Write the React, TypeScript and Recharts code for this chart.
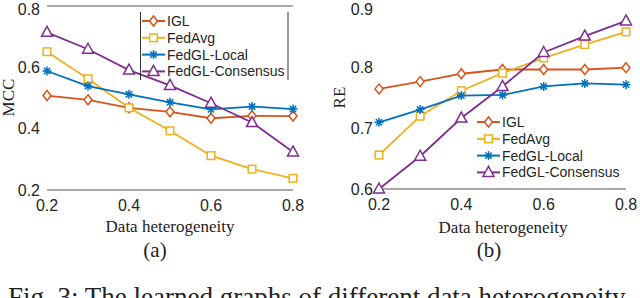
import React from 'react';
import { LineChart, Line, XAxis, YAxis, ReferenceLine, Legend } from 'recharts';

const heterogeneity = [0.2, 0.3, 0.4, 0.5, 0.6, 0.7, 0.8];
const xTicks = [0.2, 0.4, 0.6, 0.8];

const mccIGL = [0.508, 0.494, 0.468, 0.455, 0.434, 0.442, 0.441];
const mccFedAvg = [0.651, 0.563, 0.468, 0.393, 0.312, 0.268, 0.238];
const mccLocal = [0.588, 0.539, 0.512, 0.486, 0.463, 0.472, 0.464];
const mccConsensus = [0.714, 0.659, 0.591, 0.541, 0.483, 0.42, 0.324];
const mccTicks = [0.2, 0.4, 0.6, 0.8];

const reIGL = [0.765, 0.777, 0.79, 0.797, 0.797, 0.797, 0.8];
const reFedAvg = [0.656, 0.72, 0.762, 0.791, 0.816, 0.838, 0.859];
const reLocal = [0.71, 0.731, 0.754, 0.755, 0.769, 0.774, 0.772];
const reConsensus = [0.6, 0.654, 0.717, 0.769, 0.825, 0.852, 0.877];
const reTicks = [0.6, 0.7, 0.8, 0.9];

const seriesNames = ['IGL', 'FedAvg', 'FedGL-Local', 'FedGL-Consensus'];
const seriesColors = ['#D95319', '#EDB120', '#0072BD', '#7E2F8E'];
const seriesMarkers = ['diamond', 'square', 'asterisk', 'triangle'];

const mccData = heterogeneity.map((x, i) => ({
  x,
  IGL: mccIGL[i],
  FedAvg: mccFedAvg[i],
  'FedGL-Local': mccLocal[i],
  'FedGL-Consensus': mccConsensus[i],
}));
const reData = heterogeneity.map((x, i) => ({
  x,
  IGL: reIGL[i],
  FedAvg: reFedAvg[i],
  'FedGL-Local': reLocal[i],
  'FedGL-Consensus': reConsensus[i],
}));

const SANS = '"Liberation Sans", Arial, sans-serif';
const SERIF = '"Liberation Serif", "Times New Roman", serif';

function Marker({ kind, cx, cy, color }: { kind: string; cx: number; cy: number; color: string }) {
  const common = { fill: '#fff', stroke: color, strokeWidth: 1.5 };
  if (kind === 'diamond') {
    return <polygon points={`${cx},${cy - 5} ${cx + 4},${cy} ${cx},${cy + 5} ${cx - 4},${cy}`} {...common} />;
  }
  if (kind === 'square') {
    return <rect x={cx - 3.8} y={cy - 3.8} width={7.6} height={7.6} {...common} />;
  }
  if (kind === 'triangle') {
    return <polygon points={`${cx},${cy - 6} ${cx + 5.5},${cy + 4} ${cx - 5.5},${cy + 4}`} {...common} />;
  }
  const r = 4.5;
  const d = r * 0.707;
  return (
    <path
      d={`M${cx - r},${cy}L${cx + r},${cy}M${cx},${cy - r}L${cx},${cy + r}M${cx - d},${cy - d}L${cx + d},${cy + d}M${cx - d},${cy + d}L${cx + d},${cy - d}`}
      stroke={color}
      strokeWidth={1.5}
      fill="none"
    />
  );
}

function makeDot(kind: string, color: string) {
  return (props: any) => {
    const { cx, cy, index } = props;
    if (cx == null || cy == null) return <g key={`d-${index}`} />;
    return (
      <g key={`d-${kind}-${index}`}>
        <Marker kind={kind} cx={cx} cy={cy} color={color} />
      </g>
    );
  };
}

function LegendBox({ bordered }: { bordered: boolean }) {
  const h = 68;
  return (
    <svg width={150} height={h} style={{ display: 'block', overflow: 'visible' }}>
      {bordered && <line x1={0.5} y1={0} x2={0.5} y2={h} stroke="#333" strokeWidth={1} />}
      {bordered && <line x1={148} y1={0} x2={148} y2={h} stroke="#333" strokeWidth={1} />}
      {seriesNames.map((n, i) => {
        const cy = 9 + i * 16.8;
        return (
          <g key={n}>
            <line x1={2} y1={cy} x2={25} y2={cy} stroke={seriesColors[i]} strokeWidth={2} />
            <Marker kind={seriesMarkers[i]} cx={13.5} cy={cy} color={seriesColors[i]} />
            <text x={27} y={cy} dominantBaseline="central" fontFamily={SANS} fontSize={14} fill="#262626">
              {n}
            </text>
          </g>
        );
      })}
    </svg>
  );
}

const fmt = (v: number) => v.toFixed(1);

function renderSeries() {
  return seriesNames.map((n, i) => (
    <Line
      key={n}
      type="linear"
      dataKey={n}
      stroke={seriesColors[i]}
      strokeWidth={1.8}
      dot={makeDot(seriesMarkers[i], seriesColors[i])}
      activeDot={false}
      isAnimationActive={false}
    />
  ));
}

export default function App() {
  return (
    <div
      style={{
        position: 'absolute',
        left: 0,
        top: 0,
        width: 640,
        height: 298,
        overflow: 'hidden',
        background: '#fff',
      }}
    >
      <div style={{ position: 'absolute', left: 0, top: 0 }}>
        <LineChart width={310} height={240} data={mccData} margin={{ top: 6, right: 17, bottom: 20, left: 0 }}>
          <XAxis
            dataKey="x"
            type="number"
            domain={[0.2, 0.8]}
            ticks={xTicks}
            tickFormatter={fmt}
            height={30}
            axisLine={{ stroke: '#555' }}
            tickLine={false}
            tickSize={6}
            tickMargin={4}
            tick={{ fontFamily: SANS, fontSize: 16, fill: '#262626' }}
            label={{
              content: () => (
                <text x={170} y={231.5} textAnchor="middle" fontFamily={SERIF} fontSize={17} fill="#222">
                  Data heterogeneity
                </text>
              ),
            }}
          />
          <YAxis
            type="number"
            domain={[0.2, 0.8]}
            ticks={mccTicks}
            tickFormatter={fmt}
            width={47}
            axisLine={false}
            tickLine={false}
            tickSize={5}
            tickMargin={2}
            tick={{ fontFamily: SANS, fontSize: 16, fill: '#262626' }}
            label={{
              content: () => (
                <text
                  x={14}
                  y={97.5}
                  transform="rotate(-90 14 97.5)"
                  textAnchor="middle"
                  fontFamily={SERIF}
                  fontSize={17}
                  fill="#222"
                >
                  MCC
                </text>
              ),
            }}
          />
          <ReferenceLine y={0.8} stroke="#555" strokeWidth={1} ifOverflow="visible" />
          <Legend
            layout="vertical"
            align="center"
            verticalAlign="middle"
            wrapperStyle={{ left: 140, top: 12, width: 150 }}
            content={() => <LegendBox bordered={true} />}
          />
          {renderSeries()}
        </LineChart>
      </div>

      <div style={{ position: 'absolute', left: 320, top: 0 }}>
        <LineChart width={320} height={240} data={reData} margin={{ top: 7, right: 14, bottom: 21, left: 0 }}>
          <XAxis
            dataKey="x"
            type="number"
            domain={[0.2, 0.8]}
            ticks={xTicks}
            tickFormatter={fmt}
            height={30}
            axisLine={{ stroke: '#555' }}
            tickLine={false}
            tickSize={6}
            tickMargin={4}
            tick={{ fontFamily: SANS, fontSize: 16, fill: '#262626' }}
            label={{
              content: () => (
                <text x={183} y={233} textAnchor="middle" fontFamily={SERIF} fontSize={17} fill="#222">
                  Data heterogeneity
                </text>
              ),
            }}
          />
          <YAxis
            type="number"
            domain={[0.6, 0.9]}
            ticks={reTicks}
            tickFormatter={fmt}
            width={59}
            axisLine={false}
            tickLine={false}
            tickSize={4}
            tickMargin={2}
            tick={{ fontFamily: SANS, fontSize: 16, fill: '#262626' }}
            label={{
              content: () => (
                <text
                  x={25}
                  y={97.5}
                  transform="rotate(-90 25 97.5)"
                  textAnchor="middle"
                  fontFamily={SERIF}
                  fontSize={17}
                  fill="#222"
                >
                  RE
                </text>
              ),
            }}
          />
          <Legend
            layout="vertical"
            align="center"
            verticalAlign="middle"
            wrapperStyle={{ left: 155, top: 113, width: 150 }}
            content={() => <LegendBox bordered={false} />}
          />
          {renderSeries()}
        </LineChart>
      </div>

      <div
        style={{
          position: 'absolute',
          left: 155,
          top: 261,
          transform: 'translate(-50%, -100%)',
          fontFamily: SERIF,
          fontSize: 21,
          lineHeight: '21px',
          color: '#222',
        }}
      >
        (a)
      </div>
      <div
        style={{
          position: 'absolute',
          left: 489,
          top: 261,
          transform: 'translate(-50%, -100%)',
          fontFamily: SERIF,
          fontSize: 21,
          lineHeight: '21px',
          color: '#222',
        }}
      >
        (b)
      </div>
      <div
        style={{
          position: 'absolute',
          left: 8,
          top: 284,
          fontFamily: SERIF,
          fontSize: 27,
          lineHeight: '27px',
          color: '#222',
          whiteSpace: 'nowrap',
        }}
      >
        Fig. 3: The learned graphs of different data heterogeneity
      </div>
    </div>
  );
}
